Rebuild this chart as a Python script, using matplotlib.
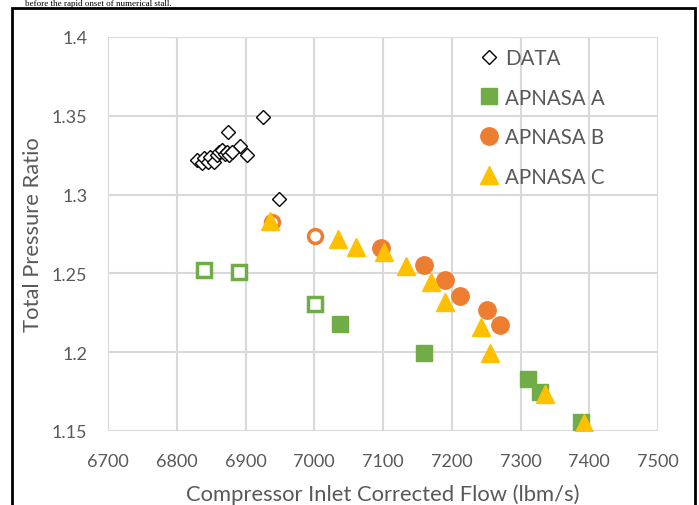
import matplotlib
matplotlib.use("Agg")
import matplotlib.pyplot as plt
from matplotlib.patches import Rectangle

# DATA (diamonds)
data_x = [6926, 6875, 6892, 6902, 6949, 6830, 6836, 6840, 6845, 6849, 6854,
          6858, 6862, 6866, 6870, 6873, 6876, 6880]
data_y = [1.349, 1.340, 1.331, 1.325, 1.297, 1.322, 1.320, 1.323, 1.321, 1.324,
          1.321, 1.325, 1.327, 1.328, 1.326, 1.327, 1.325, 1.327]

# APNASA A (green squares): hollow then filled
a_open_x = [6840, 6890, 7001]
a_open_y = [1.2521, 1.251, 1.2309]
a_fill_x = [7037, 7159, 7311, 7328, 7388]
a_fill_y = [1.2177, 1.1994, 1.1827, 1.1747, 1.1559]

# APNASA B (orange circles)
b_open_x = [6938, 7001]
b_open_y = [1.2828, 1.2735]
b_fill_x = [7097, 7159, 7190, 7212, 7251, 7270]
b_fill_y = [1.2659, 1.2553, 1.2457, 1.2358, 1.2268, 1.2171]

# APNASA C (yellow triangles)
c_x = [6936, 7035, 7060, 7102, 7133, 7170, 7190, 7242, 7256, 7335, 7392]
c_y = [1.2835, 1.2718, 1.2665, 1.2637, 1.2548, 1.2447, 1.2316, 1.216, 1.1997, 1.1732, 1.1548]

x_ticks = [6700, 6800, 6900, 7000, 7100, 7200, 7300, 7400, 7500]
y_ticks = [1.15, 1.2, 1.25, 1.3, 1.35, 1.4]
y_labels = ["1.15", "1.2", "1.25", "1.3", "1.35", "1.4"]

GREEN = "#70AD47"
ORANGE = "#ED7D31"
YELLOW = "#FFC000"
TXT = "#595959"
FONT = "Lato"

fig = plt.figure(figsize=(6.99, 5.06), dpi=100)
ax = fig.add_axes([108/699, 1-432/506, (658-108)/699, (432-38)/506])

# outer frame
fig.patches.append(Rectangle((12/699, -0.05), (695-12)/699, 1.05 - 9/506,
                             transform=fig.transFigure, fill=False,
                             edgecolor="black", linewidth=2))
fig.text(25/699, 1.0 - 0.5/506, "before the rapid onset of numerical stall.",
         fontsize=6.5, family="Liberation Serif", va="top", ha="left")

ax.plot(a_open_x, a_open_y, linestyle="none", marker="s", markersize=10,
        markerfacecolor="white", markeredgecolor=GREEN, markeredgewidth=2.5, zorder=3)
ax.plot(a_fill_x, a_fill_y, linestyle="none", marker="s", markersize=11.5,
        color=GREEN, zorder=3)
ax.plot(b_open_x, b_open_y, linestyle="none", marker="o", markersize=10,
        markerfacecolor="white", markeredgecolor=ORANGE, markeredgewidth=2.5, zorder=4)
ax.plot(b_fill_x, b_fill_y, linestyle="none", marker="o", markersize=12.5,
        color=ORANGE, zorder=4)
ax.plot(c_x, c_y, linestyle="none", marker="^", markersize=13,
        color=YELLOW, zorder=5)
ax.plot(data_x, data_y, linestyle="none", marker="D", markersize=7.5,
        markerfacecolor="white", markeredgecolor="black", markeredgewidth=1, zorder=6)

# legend proxies
h_data, = ax.plot([], [], linestyle="none", marker="D", markersize=7.5,
                  markerfacecolor="white", markeredgecolor="black", markeredgewidth=1)
h_a, = ax.plot([], [], linestyle="none", marker="s", markersize=11.5, color=GREEN)
h_b, = ax.plot([], [], linestyle="none", marker="o", markersize=12.5, color=ORANGE)
h_c, = ax.plot([], [], linestyle="none", marker="^", markersize=13, color=YELLOW)
leg = ax.legend([h_data, h_a, h_b, h_c], ["DATA", "APNASA A", "APNASA B", "APNASA C"],
                loc="upper left", bbox_to_anchor=(0.671, 0.972), frameon=False,
                prop={"family": FONT, "size": 14.8}, labelspacing=0.95,
                handletextpad=0.15, handlelength=1.2, borderaxespad=0,
                borderpad=0)
for t in leg.get_texts():
    t.set_color(TXT)

ax.set_xlim(6700, 7500)
ax.set_ylim(1.15, 1.4)
ax.set_xticks(x_ticks)
ax.set_yticks(y_ticks)
ax.set_yticklabels(y_labels)
ax.grid(True, color="#D9D9D9", linewidth=1.5)
ax.set_axisbelow(True)
for s in ax.spines.values():
    s.set_visible(False)
ax.tick_params(length=0, labelsize=13, labelcolor=TXT)
ax.tick_params(axis="x", pad=16)
ax.tick_params(axis="y", pad=15)
for lab in ax.get_xticklabels() + ax.get_yticklabels():
    lab.set_family(FONT)
ax.set_xlabel("Compressor Inlet Corrected Flow (lbm/s)", fontsize=15.8,
              family=FONT, color=TXT, labelpad=10)
ax.set_ylabel("Total Pressure Ratio", fontsize=15.8, family=FONT, color=TXT,
              labelpad=6)

fig.savefig("out.png", dpi=100)
